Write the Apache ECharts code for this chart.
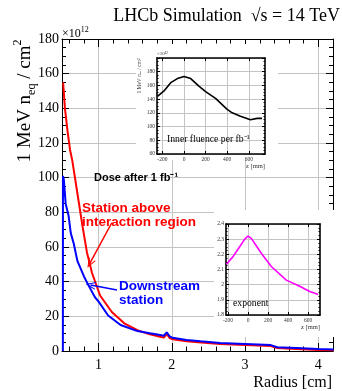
<!DOCTYPE html>
<html>
<head>
<meta charset="utf-8">
<script src="https://cdn.jsdelivr.net/npm/echarts@6/dist/echarts.min.js"></script>
<style>
  html, body { margin: 0; padding: 0; background: #fff; }
  #chart { width: 342px; height: 391px; }
</style>
</head>
<body>
<div id="chart"></div>
<script>
// main plot: fluence vs radius
const redRadius = [0.515, 0.54, 0.575, 0.61, 0.64, 0.71, 0.78, 0.84, 0.91, 1.02, 1.18, 1.35, 1.53, 1.7, 1.84, 1.89, 1.93, 1.97, 2.01, 2.2, 2.4, 2.66, 3.0, 3.35, 3.44, 3.7, 4.0, 4.21]
const redDose = [155, 140, 127, 116, 110, 91, 72, 57, 45, 32, 22.5, 16, 12, 9.6, 8.2, 7.8, 9.8, 7.4, 6.8, 5.6, 4.9, 4.0, 3.4, 2.9, 1.7, 1.2, 0.6, 0.4]
const blueRadius = [0.512, 0.513, 0.525, 0.55, 0.59, 0.62, 0.66, 0.71, 0.80, 0.86, 0.95, 1.0, 1.13, 1.3, 1.53, 1.7, 1.84, 1.89, 1.93, 1.97, 2.01, 2.2, 2.39, 2.66, 3.0, 3.35, 3.44, 3.7, 4.0, 4.21]
const blueDose = [0, 101, 99, 85, 78, 68, 62, 52, 43, 38, 31, 28.5, 20.5, 15, 11.5, 10.2, 9.2, 8.8, 10.8, 8.4, 7.6, 6.4, 5.6, 4.6, 4.0, 3.4, 2.2, 1.7, 1.1, 0.9]

// inset 1: inner fluence per fb-1 vs z
const fluenceZ = [-246, -185, -123, -61, 0, 62, 138, 200, 292, 400, 446, 523, 615, 677, 723]
const fluenceVal = [144, 152, 164, 170, 173, 170, 159, 151, 141, 125, 120, 115, 110, 112, 112]

// inset 2: exponent vs z
const exponentZ = [-216, -150, -83, -33, 0, 33, 133, 233, 383, 517, 617, 683, 700]
const exponentVal = [2.134, 2.185, 2.25, 2.30, 2.32, 2.305, 2.207, 2.12, 2.03, 1.99, 1.955, 1.94, 1.935]

// tick values
const radiusTicks = [1, 2, 3, 4]
const radiusMinorTicks = [0.6, 0.8, 1.2, 1.4, 1.6, 1.8, 2.2, 2.4, 2.6, 2.8, 3.2, 3.4, 3.6, 3.8, 4.2]
const zTicks = [-200, 0, 200, 400, 600]

// annotation arrows (data coords: from -> to)
const redArrow = [[1.18, 74], [0.88, 50.5]]
const blueArrow = [[1.25, 35.2], [0.89, 38.1]]

const zip = (a, b) => a.map((v, i) => [v, b[i]])

const SERIF = 'Liberation Serif'
const SANS = 'Liberation Sans'
const GRID = '#c4c4c4'

const chart = echarts.init(document.getElementById('chart'), null, { renderer: 'canvas' })

function mainX (pos, ticks, len, labels, grid) {
  return {
    type: 'value',
    gridIndex: grid,
    position: pos,
    min: 0.5,
    max: 4.2,
    axisLine: { show: labels, onZero: false, lineStyle: { color: '#000', width: 1 } },
    axisTick: { show: true, inside: true, length: len, customValues: ticks, lineStyle: { color: '#000' } },
    axisLabel: { show: labels && pos === 'bottom', customValues: ticks, color: '#000', fontSize: 14, fontFamily: SERIF, margin: 7 },
    splitLine: { show: labels && pos === 'bottom', lineStyle: { color: GRID, width: 1 } },
    minorTick: { show: false }
  }
}

function mainY (pos) {
  return {
    type: 'value',
    gridIndex: 0,
    position: pos,
    min: 0,
    max: 180,
    interval: 20,
    axisLine: { show: true, onZero: false, lineStyle: { color: '#000', width: 1 } },
    axisTick: { show: true, inside: true, length: 7, lineStyle: { color: '#000' } },
    minorTick: { show: true, splitNumber: 4, length: 4, lineStyle: { color: '#000' } },
    axisLabel: { show: pos === 'left', color: '#000', fontSize: 14, fontFamily: SERIF, margin: 3 },
    splitLine: { show: pos === 'left', lineStyle: { color: GRID, width: 1 } }
  }
}

function insetX (grid, pos, min, max) {
  return {
    type: 'value',
    gridIndex: grid,
    position: pos,
    min: min,
    max: max,
    z: 5,
    axisLine: { show: true, onZero: false, lineStyle: { color: '#000', width: 1.6 } },
    axisTick: { show: true, inside: true, length: 3, customValues: zTicks, lineStyle: { color: '#000' } },
    axisLabel: { show: pos === 'bottom', customValues: zTicks, color: '#333', fontSize: 5.5, fontFamily: SERIF, margin: 3 },
    splitLine: { show: pos === 'bottom', lineStyle: { color: GRID, width: 1 } }
  }
}

function insetY (grid, pos, min, max, step, fmt) {
  return {
    type: 'value',
    gridIndex: grid,
    position: pos,
    min: min,
    max: max,
    interval: step,
    z: 5,
    axisLine: { show: true, onZero: false, lineStyle: { color: '#000', width: 1.6 } },
    axisTick: { show: true, inside: true, length: 3, lineStyle: { color: '#000' } },
    minorTick: { show: true, splitNumber: 4, length: 1.5, lineStyle: { color: '#000' } },
    axisLabel: { show: pos === 'left', color: '#333', fontSize: 5.5, fontFamily: SERIF, margin: 2, formatter: fmt, showMaxLabel: fmt !== null },
    splitLine: { show: pos === 'left', lineStyle: { color: GRID, width: 1 } }
  }
}

const arrowHead = 'path://M5,0 L10,10 L8.6,10 L5,2.8 L1.4,10 L0,10 Z'

function arrowLine (pts, color) {
  return {
    silent: true,
    symbol: ['none', arrowHead],
    symbolSize: [8, 10],
    label: { show: false },
    lineStyle: { color: color, width: 1.5, type: 'solid' },
    emphasis: { disabled: true },
    data: [[{ coord: pts[0] }, { coord: pts[1] }]]
  }
}

function label (x, y, text, size, color, opts) {
  return {
    type: 'text', x: x, y: y, z: 10,
    style: Object.assign({
      text: text, fill: color, fontSize: size, fontFamily: SERIF,
      align: 'left', textAlign: 'left', verticalAlign: 'middle', textVerticalAlign: 'middle'
    }, opts || {})
  }
}

const option = {
  animation: false,
  backgroundColor: '#fff',
  grid: [
    { left: 62, top: 39, width: 271, height: 312 },
    { left: 157, top: 58, width: 108, height: 96 },
    { left: 226, top: 224, width: 94, height: 91 },
    { left: 62, top: 39, width: 271, height: 312 }
  ],
  xAxis: [
    mainX('bottom', radiusTicks, 8, true, 0),
    mainX('top', radiusTicks, 8, true, 0),
    insetX(1, 'bottom', -250, 750),
    insetX(1, 'top', -250, 750),
    insetX(2, 'bottom', -220, 720),
    insetX(2, 'top', -220, 720),
    mainX('bottom', radiusMinorTicks, 4.5, false, 3),
    mainX('top', radiusMinorTicks, 4.5, false, 3)
  ],
  yAxis: [
    mainY('left'),
    mainY('right'),
    insetY(1, 'left', 60, 200, 20, null),
    insetY(1, 'right', 60, 200, 20),
    insetY(2, 'left', 1.8, 2.4, 0.1, v => String(+v.toFixed(1))),
    insetY(2, 'right', 1.8, 2.4, 0.1),
    { type: 'value', gridIndex: 3, show: false, min: 0, max: 180 }
  ],
  graphic: [
    // white pads behind the insets
    { type: 'rect', z: 1, shape: { x: 136, y: 44, width: 142, height: 116 }, style: { fill: '#fff' }, silent: true },
    { type: 'rect', z: 1, shape: { x: 214, y: 210, width: 128, height: 127 }, style: { fill: '#fff' }, silent: true },
    label(340, 16, 'LHCb Simulation  \u221As = 14 TeV', 18, '#000', { align: 'right', textAlign: 'right' }),
    label(62, 33, '{a|\u00D710}{p|12}', 12, '#000', {
      rich: { a: { fontSize: 12, fontFamily: SERIF, lineHeight: 14, verticalAlign: 'bottom' }, p: { fontSize: 8, fontFamily: SERIF, lineHeight: 14, verticalAlign: 'top' } }
    }),
    {
      type: 'text', x: 25, y: 101, z: 10, rotation: Math.PI / 2,
      style: {
        text: '{a|1 MeV n}{s|eq}{a| / cm}{p|2}', fill: '#000', align: 'center', textAlign: 'center', verticalAlign: 'middle', textVerticalAlign: 'middle',
        rich: {
          a: { fontSize: 19, fontFamily: SERIF, lineHeight: 26, verticalAlign: 'middle' },
          s: { fontSize: 12, fontFamily: SERIF, lineHeight: 14, verticalAlign: 'bottom' },
          p: { fontSize: 12, fontFamily: SERIF, lineHeight: 14, verticalAlign: 'top' }
        }
      }
    },
    label(332, 383, 'Radius [cm]', 16, '#000', { align: 'right', textAlign: 'right' }),
    label(94, 178, 'Dose after 1 fb\u207B\u00B9', 11, '#000', { fontFamily: SANS, fontWeight: 'bold' }),
    label(82, 208, 'Station above', 13.5, '#ff0000', { fontFamily: SANS, fontWeight: 'bold' }),
    label(82, 222, 'interaction region', 13.5, '#ff0000', { fontFamily: SANS, fontWeight: 'bold' }),
    label(119, 286, 'Downstream', 13.5, '#0000ff', { fontFamily: SANS, fontWeight: 'bold' }),
    label(119, 300, 'station', 13.5, '#0000ff', { fontFamily: SANS, fontWeight: 'bold' }),
    // inset texts
    label(157, 54, '\u00D710\u00B9\u00B2', 5, '#333'),
    {
      type: 'text', x: 140, y: 76, z: 10, rotation: Math.PI / 2,
      style: {
        text: '1 MeV n\u2091\u2092 / cm\u00B2', fill: '#333', fontSize: 5.5, fontFamily: SERIF,
        align: 'center', textAlign: 'center', verticalAlign: 'middle', textVerticalAlign: 'middle'
      }
    },
    label(167, 139, 'Inner fluence per fb\u207B\u00B9', 9.7, '#000'),
    label(265, 166, 'z [mm]', 6.5, '#333', { align: 'right', textAlign: 'right' }),
    label(233, 303, 'exponent', 9.7, '#000'),
    label(320, 327, 'z [mm]', 6.5, '#333', { align: 'right', textAlign: 'right' })
  ],
  series: [
    {
      name: 'Station above interaction region',
      type: 'line',
      xAxisIndex: 0,
      yAxisIndex: 0,
      data: zip(redRadius, redDose),
      showSymbol: false,
      symbol: 'none',
      lineStyle: { color: '#ff0000', width: 2 },
      z: 2,
      markLine: arrowLine(redArrow, '#ff0000')
    },
    {
      name: 'Downstream station',
      type: 'line',
      xAxisIndex: 0,
      yAxisIndex: 0,
      data: zip(blueRadius, blueDose),
      showSymbol: false,
      symbol: 'none',
      lineStyle: { color: '#0000ff', width: 2 },
      z: 3,
      markLine: arrowLine(blueArrow, '#0000ff')
    },
    {
      name: 'Inner fluence',
      type: 'line',
      xAxisIndex: 2,
      yAxisIndex: 2,
      data: zip(fluenceZ, fluenceVal),
      showSymbol: false,
      symbol: 'none',
      lineStyle: { color: '#000', width: 1.6 },
      z: 6
    },
    {
      name: 'exponent',
      type: 'line',
      xAxisIndex: 4,
      yAxisIndex: 4,
      data: zip(exponentZ, exponentVal),
      showSymbol: false,
      symbol: 'none',
      lineStyle: { color: '#ff00ff', width: 1.6 },
      z: 6
    }
  ]
}

chart.setOption(option)
</script>
</body>
</html>
